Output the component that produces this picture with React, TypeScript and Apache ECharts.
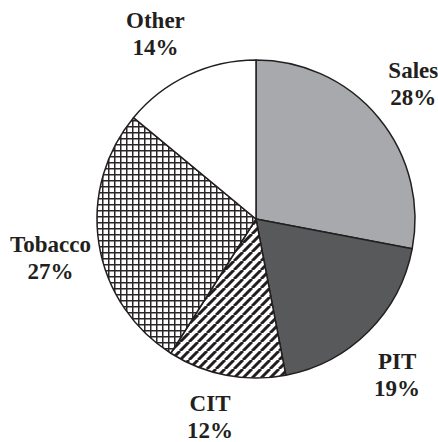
import React, { useEffect, useRef } from "react";
import * as echarts from "echarts";

const categories = ["Sales", "PIT", "CIT", "Tobacco", "Other"];
const values = [28, 19, 12, 27, 14];

// small per-label nudges (pixels) to match the reference's label placement
const labelNudge: [number, number][] = [
  [-3, -2],
  [-6, 9],
  [-7, -6],
  [0, 6],
  [-12, 3],
];

function makeCrossHatch(): HTMLCanvasElement {
  const s = 6;
  const c = document.createElement("canvas");
  c.width = s;
  c.height = s;
  const ctx = c.getContext("2d")!;
  ctx.fillStyle = "#ffffff";
  ctx.fillRect(0, 0, s, s);
  ctx.fillStyle = "#2a2627";
  ctx.fillRect(0, 0, s, 1.5);
  ctx.fillRect(0, 0, 1.5, s);
  return c;
}

function makeDiagonal(): HTMLCanvasElement {
  const s = 9;
  const c = document.createElement("canvas");
  c.width = s;
  c.height = s;
  const ctx = c.getContext("2d")!;
  ctx.fillStyle = "#ffffff";
  ctx.fillRect(0, 0, s, s);
  ctx.strokeStyle = "#231f20";
  ctx.lineWidth = 3;
  ctx.beginPath();
  for (let k = -1; k <= 1; k++) {
    ctx.moveTo(k * s, s);
    ctx.lineTo(k * s + s, 0);
  }
  ctx.stroke();
  return c;
}

export default function App() {
  const ref = useRef<HTMLDivElement>(null);
  useEffect(() => {
    document.body.style.margin = "0";
    const chart = echarts.init(ref.current!, null, { renderer: "svg" });
    const fills: any[] = [
      "#a7a9ac",
      "#58595b",
      { image: makeDiagonal(), repeat: "repeat" },
      { image: makeCrossHatch(), repeat: "repeat" },
      "#ffffff",
    ];
    const data = categories.map((name, i) => ({
      name,
      value: values[i],
      itemStyle: { color: fills[i] },
    }));
    chart.setOption({
      animation: false,
      backgroundColor: "#ffffff",
      series: [
        {
          type: "pie",
          center: [256, 219],
          radius: [0, 159],
          startAngle: 90,
          clockwise: true,
          silent: true,
          itemStyle: { borderColor: "#231f20", borderWidth: 1.5 },
          label: { show: false },
          labelLine: { show: false },
          data,
        },
        {
          type: "pie",
          center: [256, 219],
          radius: [180, 230],
          startAngle: 90,
          clockwise: true,
          silent: true,
          itemStyle: { color: "rgba(0,0,0,0)" },
          label: {
            show: true,
            position: "inside",
            formatter: (p: any) => `${p.name}\n${p.value}%`,
            fontFamily: "'Liberation Serif', 'Times New Roman', Times, serif",
            fontWeight: "bold",
            fontSize: 23,
            lineHeight: 27,
            color: "#231f20",
            align: "center",
          },
          labelLayout: (p: any) => ({
            dx: labelNudge[p.dataIndex][0],
            dy: labelNudge[p.dataIndex][1],
          }),
          labelLine: { show: false },
          data: categories.map((name, i) => ({ name, value: values[i] })),
        },
      ],
    });
    return () => chart.dispose();
  }, []);
  return <div ref={ref} style={{ width: 438, height: 442 }} />;
}
